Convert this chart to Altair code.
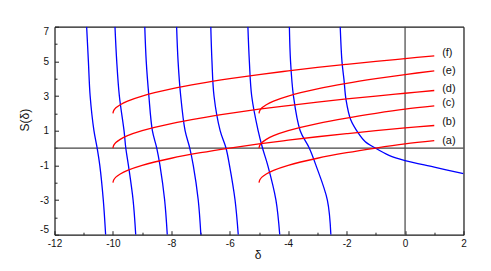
import altair as alt
import pandas as pd

# ---- blue branches: delta read at fixed S levels ----
blue_levels = [7, 5, 3, 1, 0, -1, -3, -5]
branch_1 = [-10.90, -10.84, -10.78, -10.65, -10.54, -10.45, -10.33, -10.25]
branch_2 = [-9.93, -9.87, -9.78, -9.62, -9.56, -9.47, -9.31, -9.22]
branch_3 = [-8.91, -8.86, -8.77, -8.65, -8.50, -8.39, -8.23, -8.14]
branch_4 = [-7.82, -7.77, -7.68, -7.53, -7.37, -7.25, -7.08, -6.99]
branch_5 = [-6.65, -6.61, -6.54, -6.33, -6.13, -6.01, -5.82, -5.71]
branch_6 = [-5.38, -5.33, -5.25, -5.03, -4.88, -4.70, -4.42, -4.29]
branch_7 = [-3.96, -3.92, -3.82, -3.59, -3.28, -3.05, -2.66, -2.54]
# last branch (ends at right edge)
branch_8_x = [-2.22, -2.16, -2.09, -2.02, -1.86, -1.60, -1.37, -1.02, -0.55, 0.0, 1.0, 2.0]
branch_8_y = [7.0, 5.0, 3.93, 2.78, 1.63, 0.86, 0.38, 0.0, -0.42, -0.72, -1.10, -1.48]

# ---- red curves ----
red_x_from_m10 = [-10, -9.97, -9.9, -9.75, -9.5, -9, -8, -7, -6, -5, -4, -3, -2, -1, 0, 1]
curve_f = [2.0, 2.17, 2.32, 2.50, 2.71, 3.00, 3.41, 3.73, 4.00, 4.24, 4.45, 4.65, 4.83, 5.00, 5.16, 5.32]
curve_d = [0.0, 0.17, 0.32, 0.50, 0.71, 1.00, 1.41, 1.73, 2.00, 2.24, 2.45, 2.65, 2.83, 3.00, 3.16, 3.32]
curve_b = [-2.0, -1.83, -1.68, -1.50, -1.29, -1.00, -0.59, -0.27, 0.00, 0.24, 0.45, 0.65, 0.83, 1.00, 1.16, 1.30]
red_x_from_m5 = [-5, -4.97, -4.9, -4.75, -4.5, -4, -3, -2, -1, 0, 1]
curve_e = [2.0, 2.17, 2.32, 2.50, 2.71, 3.00, 3.41, 3.73, 4.00, 4.24, 4.45]
curve_c = [0.0, 0.17, 0.32, 0.50, 0.71, 1.00, 1.41, 1.73, 2.00, 2.24, 2.43]
curve_a = [-2.0, -1.83, -1.68, -1.50, -1.29, -1.00, -0.59, -0.27, 0.00, 0.24, 0.43]

# ---- curve labels ----
label_text = ["(a)", "(b)", "(c)", "(d)", "(e)", "(f)"]
label_y = [0.42, 1.48, 2.59, 3.41, 4.45, 5.47]
label_x = [1.27] * 6

# ---- axes ----
x_domain = [-12, 2]
y_domain = [-5, 7]
x_major = [-12, -10, -8, -6, -4, -2, 0, 2]
x_minor = [-11, -9, -7, -5, -3, -1, 1]
y_major = [-5, -3, -1, 1, 3, 5, 7]
y_minor = [-4, -2, 0, 2, 4, 6]

# ---- build tables ----
rows = []
for b, xs in enumerate([branch_1, branch_2, branch_3, branch_4, branch_5, branch_6, branch_7]):
    for k, (xv, yv) in enumerate(zip(xs, blue_levels)):
        rows.append({"x": xv, "y": yv, "branch": f"b{b}", "k": k})
for k, (xv, yv) in enumerate(zip(branch_8_x, branch_8_y)):
    rows.append({"x": xv, "y": yv, "branch": "b7", "k": k})
blue_df = pd.DataFrame(rows)

rows = []
for name, xs, ys in [("f", red_x_from_m10, curve_f), ("d", red_x_from_m10, curve_d),
                     ("b", red_x_from_m10, curve_b), ("e", red_x_from_m5, curve_e),
                     ("c", red_x_from_m5, curve_c), ("a", red_x_from_m5, curve_a)]:
    for k, (xv, yv) in enumerate(zip(xs, ys)):
        rows.append({"x": xv, "y": yv, "curve": name, "k": k})
red_df = pd.DataFrame(rows)

lab_df = pd.DataFrame({"x": label_x, "y": label_y, "t": label_text})

W, H = 409, 208
FONT = "Liberation Sans"
FRAME = "#222"
xs_ = alt.Scale(domain=x_domain, nice=False, zero=False)
ys_ = alt.Scale(domain=y_domain, nice=False, zero=False)

blue = alt.Chart(blue_df).mark_line(color="#0000ff", strokeWidth=1.3, interpolate="catmull-rom", clip=True).encode(
    x=alt.X("x:Q", scale=xs_, axis=alt.Axis(
        values=x_major, title="δ", ticks=False, domain=True, domainColor=FRAME, domainWidth=1.2,
        grid=False, labelFlush=False,
        labelPadding=4, labelFontSize=10, labelFont=FONT, labelColor="#111",
        labelExpr="'' + datum.value",
        titleFont=FONT, titleFontSize=12, titleFontWeight="normal", titleColor="#111",
        titleX=203, titleY=20, titleBaseline="middle", titleAlign="center")),
    y=alt.Y("y:Q", scale=ys_, axis=alt.Axis(
        values=y_major, title="S(δ)", ticks=False, domain=True, domainColor=FRAME, domainWidth=1.2,
        grid=False, labelFlush=True,
        labelPadding=6, labelFontSize=10, labelFont=FONT, labelColor="#111",
        labelExpr="'' + datum.value",
        titleFont=FONT, titleFontSize=12, titleFontWeight="normal", titleColor="#111",
        titleX=-30, titleY=93, titleAngle=270, titleBaseline="middle", titleAlign="center")),
    detail="branch:N",
    order="k:Q",
)

red = alt.Chart(red_df).mark_line(color="#ff0000", strokeWidth=1.3, interpolate="catmull-rom", clip=True).encode(
    x=alt.X("x:Q", scale=xs_, axis=alt.Axis(
        orient="top", offset=-H, values=x_major, labels=False, ticks=True, tickSize=4,
        tickColor=FRAME, domain=False, grid=False, title=None)),
    y=alt.Y("y:Q", scale=ys_, axis=alt.Axis(
        orient="right", offset=-W, values=y_major, labels=False, ticks=True, tickSize=4,
        tickColor=FRAME, domain=False, grid=False, title=None)),
    detail="curve:N",
    order="k:Q",
)

vline = alt.Chart(pd.DataFrame({"v": [0]})).mark_rule(color="#444", strokeWidth=1.2).encode(
    x=alt.X("v:Q", scale=xs_, axis=alt.Axis(
        orient="top", offset=-H, values=x_minor, labels=False, ticks=True, tickSize=2.5,
        tickColor=FRAME, domain=False, grid=False, title=None)),
)
hline = alt.Chart(pd.DataFrame({"v": [0]})).mark_rule(color="#444", strokeWidth=1.2).encode(
    y=alt.Y("v:Q", scale=ys_, axis=alt.Axis(
        orient="right", offset=-W, values=y_minor, labels=False, ticks=True, tickSize=2.5,
        tickColor=FRAME, domain=False, grid=False, title=None)),
)

labels = alt.Chart(lab_df).mark_text(align="left", baseline="middle", fontSize=11, font=FONT, color="#111").encode(
    x=alt.X("x:Q", scale=xs_, axis=alt.Axis(
        orient="top", labels=False, ticks=False, domain=True, domainColor=FRAME,
        domainWidth=1.2, grid=False, title=None)),
    y=alt.Y("y:Q", scale=ys_, axis=alt.Axis(
        orient="right", labels=False, ticks=False, domain=True, domainColor=FRAME,
        domainWidth=1.2, grid=False, title=None)),
    text="t:N",
)

chart = alt.layer(hline, vline, blue, red, labels).resolve_axis(
    x="independent", y="independent"
).properties(
    width=W, height=H,
    autosize=alt.AutoSizeParams(type="none"),
    padding={"left": 46.5, "top": 18.7, "right": 10, "bottom": 30},
).configure_view(stroke=FRAME, strokeWidth=1.2).configure(background="white")

chart.save("out.html", embed_options={"renderer": "svg", "actions": False})
